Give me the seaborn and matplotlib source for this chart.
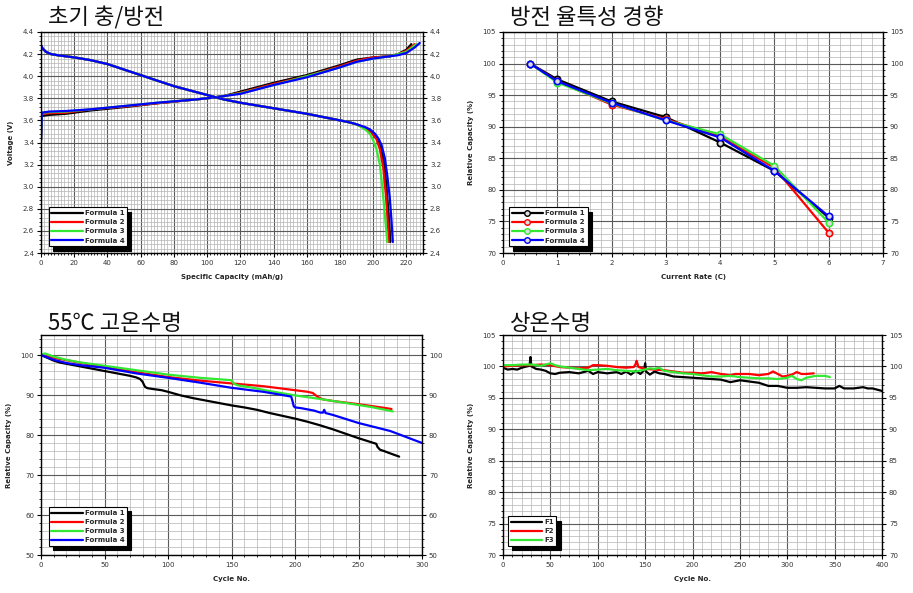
import numpy as np
import pandas as pd
import matplotlib
matplotlib.use("Agg")
import matplotlib.pyplot as plt
from matplotlib.lines import Line2D
from matplotlib.ticker import MultipleLocator
import seaborn as sns

# ---------------- data ----------------
formulas = ["Formula 1", "Formula 2", "Formula 3", "Formula 4"]
colors = ["#000000", "#ff0000", "#33e833", "#0000ff"]

# Panel 1: initial charge / discharge
chg1_x = [0, 0.5, 5, 15, 30, 50, 70, 90, 100, 105, 110, 120, 140, 160, 180, 190, 200, 210, 215, 220, 223]
chg1_y = [3.42, 3.64, 3.65, 3.66, 3.69, 3.72, 3.755, 3.785, 3.80, 3.81, 3.82, 3.86, 3.94, 4.01, 4.10, 4.15, 4.17, 4.18, 4.20, 4.24, 4.29]
chg2_x = [0, 0.5, 5, 15, 30, 50, 70, 90, 100, 105, 110, 120, 140, 160, 180, 190, 200, 210, 215, 220, 225]
chg2_y = [3.42, 3.66, 3.665, 3.67, 3.70, 3.725, 3.755, 3.785, 3.80, 3.81, 3.82, 3.85, 3.93, 4.00, 4.09, 4.14, 4.17, 4.18, 4.20, 4.23, 4.29]
chg3_x = [0, 0.5, 5, 15, 30, 50, 70, 90, 100, 105, 110, 120, 140, 160, 180, 190, 200, 210, 215, 220, 226]
chg3_y = [3.42, 3.67, 3.675, 3.68, 3.70, 3.73, 3.76, 3.785, 3.80, 3.81, 3.82, 3.845, 3.92, 4.00, 4.08, 4.13, 4.16, 4.18, 4.20, 4.22, 4.29]
chg4_x = [0, 0.5, 5, 15, 30, 50, 70, 90, 100, 105, 110, 120, 140, 160, 180, 190, 200, 210, 215, 220, 225, 228]
chg4_y = [3.42, 3.67, 3.68, 3.685, 3.70, 3.73, 3.76, 3.785, 3.80, 3.81, 3.82, 3.84, 3.92, 3.99, 4.08, 4.13, 4.16, 4.18, 4.19, 4.21, 4.26, 4.30]

dis_common_x = [0, 1, 3, 6, 10, 20, 30, 40, 50, 60, 70, 80, 90, 100, 110, 120, 130, 140, 150, 160, 170, 180, 185, 190]
dis_common_y = [4.28, 4.25, 4.22, 4.20, 4.19, 4.17, 4.145, 4.11, 4.06, 4.01, 3.96, 3.91, 3.87, 3.83, 3.79, 3.76, 3.735, 3.71, 3.685, 3.66, 3.63, 3.60, 3.585, 3.565]
dis1_x = dis_common_x + [195, 199, 202, 204.5, 206.5, 208, 209.3, 210.3]
dis1_y = dis_common_y + [3.53, 3.49, 3.44, 3.36, 3.22, 3.00, 2.75, 2.50]
dis2_x = dis_common_x + [195, 199, 202, 204, 206, 207.5, 208.5, 209.5]
dis2_y = dis_common_y + [3.53, 3.49, 3.43, 3.34, 3.18, 2.95, 2.75, 2.50]
dis3_x = dis_common_x + [195, 198, 200, 202, 204, 205.5, 207, 208.5]
dis3_y = dis_common_y + [3.52, 3.48, 3.42, 3.34, 3.20, 3.00, 2.75, 2.50]
dis4_x = dis_common_x + [195, 198, 201, 203, 205, 207, 208.5, 210, 211, 211.8]
dis4_y = dis_common_y + [3.54, 3.52, 3.48, 3.44, 3.38, 3.26, 3.10, 2.90, 2.70, 2.50]

# Panel 2: rate capability
rate_x = [0.5, 1, 2, 3, 4, 5, 6]
rate1 = [100, 97.5, 94.0, 91.5, 87.5, 83.0, 75.6]
rate2 = [100, 97.2, 93.5, 91.2, 88.5, 83.5, 73.2]
rate3 = [100, 97.0, 93.7, 91.0, 88.8, 83.8, 74.8]
rate4 = [100, 97.2, 93.8, 91.0, 88.3, 83.0, 75.8]

# Panel 3: 55C cycle life
ht1_x = [0, 5, 10, 15, 20, 30, 40, 50, 60, 70, 75, 78, 80, 81, 82, 84, 88, 95, 100, 110, 120, 130, 140, 150, 160, 170,
         180, 190, 200, 210, 220, 230, 240, 250, 260, 264, 265, 267, 270, 275, 282]
ht1_y = [100, 99.3, 98.6, 98.1, 97.8, 97.2, 96.6, 96.0, 95.4, 94.8, 94.4, 94.0, 93.3, 92.6, 92.0, 91.7, 91.5, 91.2, 90.8,
         89.9, 89.2, 88.6, 88.0, 87.4, 86.9, 86.3, 85.5, 84.8, 84.1, 83.3, 82.4, 81.4, 80.3, 79.2, 78.2, 77.8, 77.0, 76.3,
         76.0, 75.4, 74.6]
ht2_x = [0, 10, 20, 30, 50, 75, 100, 125, 150, 175, 200, 210, 214, 218, 222, 230, 250, 270, 276]
ht2_y = [100, 99.3, 98.7, 98.1, 97.0, 95.7, 94.5, 93.6, 92.9, 92.2, 91.2, 90.8, 90.5, 89.5, 88.9, 88.5, 87.7, 86.8, 86.5]
ht3_x = [0, 3, 10, 20, 30, 50, 75, 100, 125, 150, 152, 155, 165, 180, 200, 220, 240, 260, 277]
ht3_y = [100, 100.4, 99.6, 98.8, 98.2, 97.3, 96.2, 95.1, 94.3, 93.7, 92.8, 92.4, 91.9, 91.0, 89.9, 89.0, 88.0, 87.0, 85.9]
ht4_x = [0, 10, 20, 30, 50, 75, 100, 125, 150, 175, 190, 197, 198, 199, 200, 205, 215, 220, 222, 223, 224, 230, 250,
         275, 300]
ht4_y = [100, 98.8, 98.0, 97.5, 96.8, 95.4, 94.3, 93.1, 91.8, 90.8, 90.0, 89.6, 88.5, 87.2, 86.9, 86.7, 86.1, 85.6,
         85.6, 86.3, 85.5, 85.0, 83.0, 81.0, 78.0]

# Panel 4: room temperature cycle life
rt_labels = ["F1", "F2", "F3"]
rt1_x = [0, 5, 10, 15, 20, 25, 28, 29, 30, 35, 40, 45, 50, 55, 60, 70, 80, 90, 95, 100, 110, 120, 125, 130, 135, 140,
         145, 149, 150, 151, 155, 160, 165, 170, 180, 190, 200, 210, 220, 230, 240, 250, 260, 270, 280, 290, 300, 310,
         320, 330, 340, 350, 355, 360, 370, 380, 385, 390, 395, 400]
rt1_y = [99.8, 99.5, 99.6, 99.5, 99.8, 100.0, 100.1, 101.5, 100.0, 99.6, 99.5, 99.3, 98.9, 98.8, 99.0, 99.1, 98.9,
         99.3, 98.8, 99.1, 98.9, 99.1, 98.8, 99.2, 98.7, 99.3, 98.8, 99.4, 100.5, 99.2, 98.7, 99.2, 98.9, 98.8, 98.4,
         98.3, 98.2, 98.1, 98.0, 97.9, 97.5, 97.8, 97.6, 97.4, 96.9, 96.9, 96.6, 96.6, 96.7, 96.6, 96.5, 96.5, 96.9,
         96.5, 96.5, 96.7, 96.5, 96.5, 96.3, 96.1]
rt2_x = [0, 10, 20, 30, 40, 50, 60, 70, 80, 90, 95, 100, 110, 120, 130, 138, 140, 141, 143, 150, 160, 170, 180, 190,
         200, 210, 220, 230, 240, 245, 250, 260, 270, 280, 285, 290, 295, 300, 305, 310, 315, 320, 328]
rt2_y = [100.0, 100.1, 100.2, 100.2, 100.3, 100.2, 99.9, 99.8, 99.7, 99.8, 100.2, 100.2, 100.1, 99.9, 99.8, 99.9,
         100.4, 100.9, 99.9, 99.6, 99.5, 99.4, 99.2, 99.0, 99.0, 98.9, 99.1, 98.8, 98.6, 98.8, 98.8, 98.8, 98.6,
         98.8, 99.2, 98.8, 98.4, 98.5, 98.7, 99.1, 98.8, 98.8, 98.9]
rt3_x = [0, 10, 20, 30, 40, 50, 55, 60, 70, 80, 90, 100, 110, 120, 130, 140, 150, 155, 160, 165, 170, 180, 190, 200,
         210, 220, 230, 240, 250, 260, 270, 280, 290, 300, 305, 310, 315, 320, 330, 340, 345]
rt3_y = [100.2, 100.2, 100.3, 100.3, 100.1, 100.5, 100.2, 100.0, 99.8, 99.6, 99.4, 99.5, 99.6, 99.4, 99.3, 99.2,
         99.5, 99.7, 99.6, 99.8, 99.3, 99.1, 98.9, 98.8, 98.6, 98.4, 98.4, 98.5, 98.3, 98.2, 98.1, 98.1, 98.0, 98.2,
         98.5, 98.0, 97.8, 98.2, 98.5, 98.5, 98.3]

titles = ["초기 충/방전", "방전 율특성 경향", "55℃ 고온수명", "상온수명"]

# ---------------- style ----------------
sns.set_theme(style="ticks")
plt.rcParams["font.family"] = ["DejaVu Sans"]
plt.rcParams["axes.linewidth"] = 1.0

W, H = 913, 593
fig = plt.figure(figsize=(W / 100, H / 100), dpi=100)


def px_axes(l, t, r, b):
    return fig.add_axes([l / W, 1 - b / H, (r - l) / W, (b - t) / H])


ax1 = px_axes(41, 32, 423, 253)
ax2 = px_axes(503, 32, 883, 253)
ax3 = px_axes(41, 335, 422, 555)
ax4 = px_axes(503, 335, 882, 555)

pal = dict(zip(formulas, colors))
LW = 1.6


def long_df(xs, ys, labels):
    frames = []
    for x, y, lab in zip(xs, ys, labels):
        frames.append(pd.DataFrame({"x": x, "y": y, "Formula": lab}))
    return pd.concat(frames, ignore_index=True)


# Panel 1
df_chg = long_df([chg1_x, chg2_x, chg3_x, chg4_x], [chg1_y, chg2_y, chg3_y, chg4_y], formulas)
df_dis = long_df([dis1_x, dis2_x, dis3_x, dis4_x], [dis1_y, dis2_y, dis3_y, dis4_y], formulas)
for d in (df_chg, df_dis):
    sns.lineplot(data=d, x="x", y="y", hue="Formula", palette=pal, estimator=None, sort=False,
                 lw=LW, legend=False, ax=ax1)

# Panel 2
df_rate = long_df([rate_x] * 4, [rate1, rate2, rate3, rate4], formulas)
sns.lineplot(data=df_rate, x="x", y="y", hue="Formula", palette=pal, estimator=None, sort=False,
             lw=LW, marker="o", markersize=4.5, markeredgewidth=1.2, markerfacecolor="#dddddd",
             legend=False, ax=ax2)
for line, c in zip(ax2.get_lines(), colors):
    line.set_markeredgecolor(c)

# Panel 3
df_ht = long_df([ht1_x, ht2_x, ht3_x, ht4_x], [ht1_y, ht2_y, ht3_y, ht4_y], formulas)
sns.lineplot(data=df_ht, x="x", y="y", hue="Formula", palette=pal, estimator=None, sort=False,
             lw=LW, legend=False, ax=ax3)

# Panel 4
pal_rt = dict(zip(rt_labels, colors[:3]))
df_rt = long_df([rt1_x, rt2_x, rt3_x], [rt1_y, rt2_y, rt3_y], rt_labels)
sns.lineplot(data=df_rt, x="x", y="y", hue="Formula", palette=pal_rt, estimator=None, sort=False,
             lw=LW, legend=False, ax=ax4)

# ---------------- axes formatting ----------------
specs = [
    (ax1, (0, 230), (2.4, 4.4), 20, 2, 0.2, 0.04, "Specific Capacity (mAh/g)", "Voltage (V)", "%.1f"),
    (ax2, (0, 7), (70, 105), 1, 0.2, 5, 1, "Current Rate (C)", "Relative Capacity (%)", "%d"),
    (ax3, (0, 300), (50, 105), 50, 10, 10, 2, "Cycle No.", "Relative Capacity (%)", "%d"),
    (ax4, (0, 400), (70, 105), 50, 10, 5, 1, "Cycle No.", "Relative Capacity (%)", "%d"),
]
for ax, xl, yl, xmaj, xmin, ymaj, ymin, xlab, ylab, fmt in specs:
    ax.set_xlim(*xl)
    ax.set_ylim(*yl)
    ax.xaxis.set_major_locator(MultipleLocator(xmaj))
    ax.xaxis.set_minor_locator(MultipleLocator(xmin))
    ax.yaxis.set_major_locator(MultipleLocator(ymaj))
    ax.yaxis.set_minor_locator(MultipleLocator(ymin))
    ax.yaxis.set_major_formatter(matplotlib.ticker.FormatStrFormatter(fmt))
    ax.grid(which="major", color="#5a5a5a", lw=0.8)
    ax.grid(which="minor", color="#b4b4b4", lw=0.5)
    ax.set_axisbelow(True)
    for s in ax.spines.values():
        s.set_color("black")
        s.set_linewidth(1.0)
    ax.tick_params(axis="both", which="both", direction="out", colors="black", labelsize=5,
                   labelcolor="#333333")
    ax.tick_params(axis="both", which="major", length=3, width=0.8, pad=2)
    ax.tick_params(axis="both", which="minor", length=1.5, width=0.6)
    ax.tick_params(axis="y", which="both", right=True, labelright=True)
    ax.set_xlabel(xlab, fontsize=5, fontweight="bold", labelpad=6)
    ax.set_ylabel(ylab, fontsize=5, fontweight="bold", labelpad=6)

ax3.set_yticks([50, 60, 70, 80, 90, 100])

# ---------------- legends ----------------
def add_legend(ax, labels, cols, marker=None, anchor=(0.02, 0.03)):
    handles = []
    for lab, c in zip(labels, cols):
        if marker:
            h = Line2D([], [], color=c, lw=LW, marker=marker, markersize=4, markeredgecolor=c,
                       markerfacecolor="#dddddd", markeredgewidth=1.0)
        else:
            h = Line2D([], [], color=c, lw=LW)
        handles.append(h)
    leg = ax.legend(handles, labels, loc="lower left", bbox_to_anchor=anchor, borderaxespad=0,
                    prop={"size": 5, "weight": "bold"}, handlelength=4.5, handletextpad=0.3,
                    labelspacing=0.45, borderpad=0.4, fancybox=False, framealpha=1,
                    edgecolor="black", shadow={"color": "black", "alpha": 1, "ox": 3, "oy": -3})
    leg.get_frame().set_linewidth(0.8)
    return leg


add_legend(ax1, formulas, colors, anchor=(0.02, 0.03))
add_legend(ax2, formulas, colors, marker="o", anchor=(0.016, 0.03))
add_legend(ax3, formulas, colors, anchor=(0.02, 0.04))
add_legend(ax4, rt_labels, colors[:3], anchor=(0.013, 0.04))

# ---------------- titles ----------------
title_pos = [(48, 18), (510, 18), (48, 323), (510, 323)]
for t, (x, y) in zip(titles, title_pos):
    fig.text(x / W, 1 - y / H, t, fontsize=16, va="center", ha="left",
             family=["Noto Sans CJK KR", "DejaVu Sans"], color="#111111")

fig.savefig("out.png", dpi=100, facecolor="white")
